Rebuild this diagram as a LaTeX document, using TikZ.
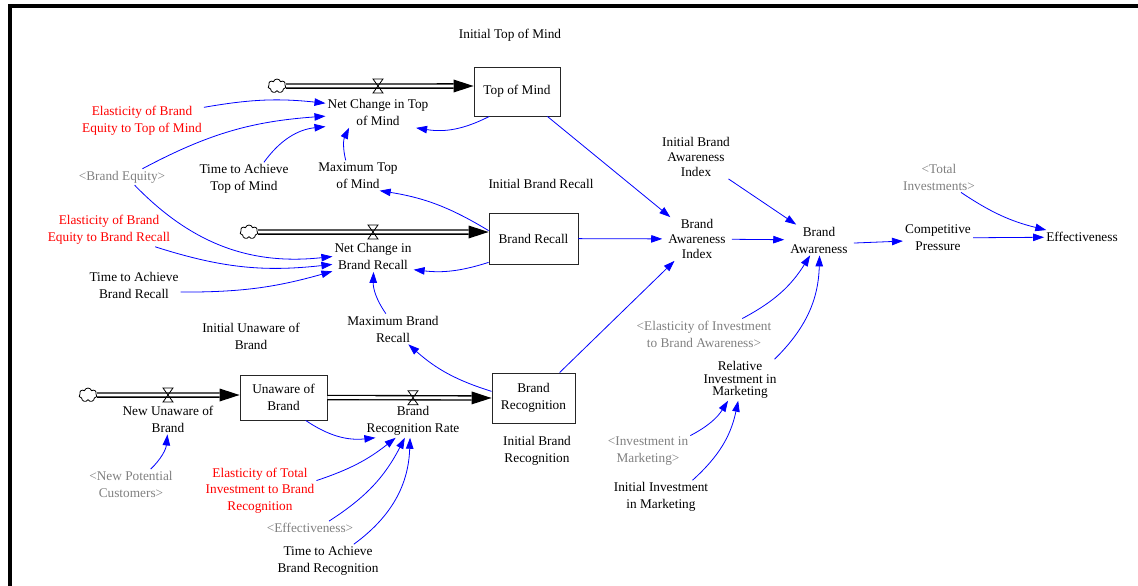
\documentclass[tikz,border=0pt]{standalone}
\usepackage{fontspec}
\setmainfont{Liberation Serif}
\usetikzlibrary{arrows.meta,shapes.symbols}

\begin{document}
\begin{tikzpicture}[x=1pt,y=1pt,
    font=\fontsize{13.3}{17}\selectfont,
    var/.style={align=center, inner sep=2pt},
    ghost/.style={var, text=black!50},
    redvar/.style={var, text=red},
    stock/.style={draw=black!85, line width=0.9pt, align=center, inner sep=2pt},
    link/.style={draw=blue, line width=0.8pt, -{Triangle[length=11pt,width=7.5pt]}},
    pipe/.style={line width=5.5pt, -{Triangle[length=20pt,width=13pt,line width=0pt]},
        postaction={draw=white, line width=2.8pt, arrows=-, shorten >=20pt}},
    source/.style={cloud, cloud puffs=7, cloud ignores aspect, draw, line width=0.8pt,
        minimum width=18pt, minimum height=14pt, inner sep=0pt},
    valve/.pic={\draw[line width=0.8pt] (-5,7) -- (5,7) -- (-5,-7) -- (5,-7) -- cycle;}]

            \useasboundingbox (0,0) rectangle (1138,-586);
            \draw[line width=3.7pt] (10,-586) -- (10,-6) -- (1138,-6);

            \node[var] (itm) at (510,-35) {Initial Top of Mind};
            \node[stock, minimum width=86pt, minimum height=49pt] (tom) at (517,-91.5) {Top of Mind};
            \node[var] (nctom) at (378,-112.5) {Net Change in Top\\of Mind};
            \node[redvar] (ebtom) at (142,-120.5) {Elasticity of Brand\\Equity to Top of Mind};
            \node[ghost] (be) at (122,-177) {<Brand Equity>};
            \node[var] (ttom) at (244,-179) {Time to Achieve\\Top of Mind};
            \node[var] (mtom) at (358,-175.5) {Maximum Top\\of Mind};
            \node[var] (ibr) at (541,-184) {Initial Brand Recall};
            \node[stock, minimum width=89pt, minimum height=51pt] (br) at (533.5,-238.5) {Brand Recall};
            \node[var] (ncbr) at (373,-256.5) {Net Change in\\Brand Recall};
            \node[redvar] (ebbr) at (109,-230) {Elasticity of Brand\\Equity to Brand Recall};
            \node[var] (tbr) at (134,-285.5) {Time to Achieve\\Brand Recall};
            \node[var] (mbr) at (393,-329) {Maximum Brand\\Recall};
            \node[var] (iub) at (251,-336) {Initial Unaware of\\Brand};
            \node[stock, minimum width=87pt, minimum height=45pt] (ub) at (283.5,-397.5) {Unaware of\\Brand};
            \node[var] (nub) at (168,-419) {New Unaware of\\Brand};
            \node[ghost] (npc) at (131,-484.5) {<New Potential\\Customers>};
            \node[var] (brr) at (413,-421) {Brand\\Recognition Rate};
            \node[stock, minimum width=83pt, minimum height=50pt] (brc) at (533.5,-398) {Brand\\Recognition};
            \node[var] (ibrc) at (537,-450.5) {Initial Brand\\Recognition};
            \node[redvar, font=\fontsize{13.3}{16.5}\selectfont] (etibr) at (260,-490.5) {Elasticity of Total\\Investment to Brand\\Recognition};
            \node[ghost] (eff) at (310,-528) {<Effectiveness>};
            \node[var] (tbrc) at (328,-561) {Time to Achieve\\Brand Recognition};
            \node[var, font=\fontsize{13.3}{15}\selectfont] (ibai) at (696,-157) {Initial Brand\\Awareness\\Index};
            \node[var, inner xsep=6pt, font=\fontsize{13.3}{15}\selectfont] (bai) at (697,-239) {Brand\\Awareness\\Index};
            \node[var, inner xsep=6pt] (ba) at (819,-240) {Brand\\Awareness};
            \node[ghost] (ti) at (939,-177) {<Total\\Investments>};
            \node[var] (cp) at (938,-238) {Competitive\\Pressure};
            \node[var] (ef) at (1082,-237) {Effectiveness};
            \node[ghost] (eiba) at (704,-334) {<Elasticity of Investment\\to Brand Awareness>};
            \node[var, font=\fontsize{13.3}{12.5}\selectfont] (rim) at (740,-380) {Relative\\Investment in\\Marketing};
            \node[ghost] (iim) at (648,-451) {<Investment in\\Marketing>};
            \node[var] (iinm) at (661,-497) {Initial Investment\\in Marketing};

            \node[source] (c1) at (277,-86) {};
            \node[source] (c2) at (249,-232) {};
            \node[source] (c3) at (88,-395) {};

            \draw[pipe] (c1) -- (c1 -| tom.west);
            \draw[pipe] (c2) -- (c2 -| br.west);
            \draw[pipe] (c3) -- (c3 -| ub.west);
            \draw[pipe] (ub.east) -- (brc.west);

            \pic (v1) at (378,-86) {valve};
            \pic (v2) at (373,-232) {valve};
            \pic (v3) at (168,-395) {valve};
            \pic (v4) at (413,-397.7) {valve};

            \path (ebtom.12) edge[link, bend left=8] (nctom.170);
            \path (be.22) edge[link, bend left=12] (nctom.184);
            \path (ttom.40) edge[link, bend left=24] (nctom.195);
            \path (mtom.129) edge[link, bend left=20] (nctom.208);
            \path (tom.222) edge[link, bend left=18] (nctom.338);
            \path (br.170) edge[link, bend right=11] (mtom.325);
            \path (tom) edge[link] (bai);

            \path (be.327) edge[link, bend right=26] (ncbr.180);
            \path (ebbr.340) edge[link, bend right=12] (ncbr.191);
            \path (tbr.352) edge[link, bend right=8] (ncbr.200);
            \path (mbr.115) edge[link, bend left=18] (ncbr.272);
            \path (br.208) edge[link, bend left=12] (ncbr.342);
            \path (br) edge[link] (bai);

            \path (brc.171) edge[link, bend left=12] (mbr.315);
            \path (brc) edge[link] (bai);
            \path (ub.314) edge[link, bend right=20] (brr.204);
            \path (etibr.10) edge[link, bend right=10] (brr.224);
            \path (eff.20) edge[link, bend right=15] (brr.244);
            \path (tbrc.33) edge[link, bend right=26] (brr.260);
            \path (npc.38) edge[link, bend right=20] (nub.268);

            \path (ibai) edge[link] (ba);
            \path (bai) edge[link] (ba);
            \path (ba.355) edge[link] (cp.185);
            \path (ti.325) edge[link, bend right=10] (ef.169);
            \path (cp) edge[link] (ef);
            \path (eiba.22) edge[link, bend right=15] (ba.240);
            \path (rim.31) edge[link, bend right=22] (ba.272);
            \path (iim.20) edge[link, bend right=15] (rim.240);
            \path (iinm.28) edge[link, bend right=18] (rim.265);
        \end{tikzpicture}
\end{document}
